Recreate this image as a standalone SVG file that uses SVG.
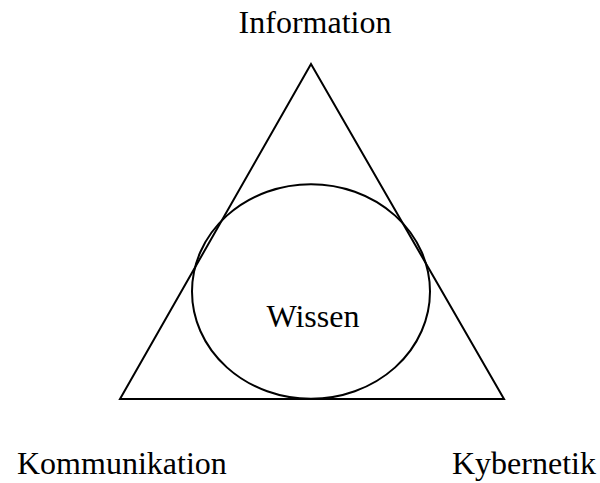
<svg xmlns="http://www.w3.org/2000/svg" width="600" height="483" viewBox="0 0 600 483">
<style>
.shape{fill:none;stroke:#000;stroke-width:2}
.lbl{font-family:"Liberation Serif","Times New Roman",serif;font-size:32px;fill:#000}
</style>
<rect width="600" height="483" fill="#fff"/>
<g id="connectors">
<polygon class="shape" points="311,64 120,399 504,399"/>
</g>
<g id="wissen">
<ellipse class="shape" cx="311" cy="291.5" rx="119" ry="107.3"/>
<text class="lbl" x="313" y="327" text-anchor="middle">Wissen</text>
</g>
<g id="information">
<text class="lbl" x="315" y="33" text-anchor="middle">Information</text>
</g>
<g id="kommunikation">
<text class="lbl" x="17" y="474">Kommunikation</text>
</g>
<g id="kybernetik">
<text class="lbl" x="452" y="474">Kybernetik</text>
</g>
</svg>
